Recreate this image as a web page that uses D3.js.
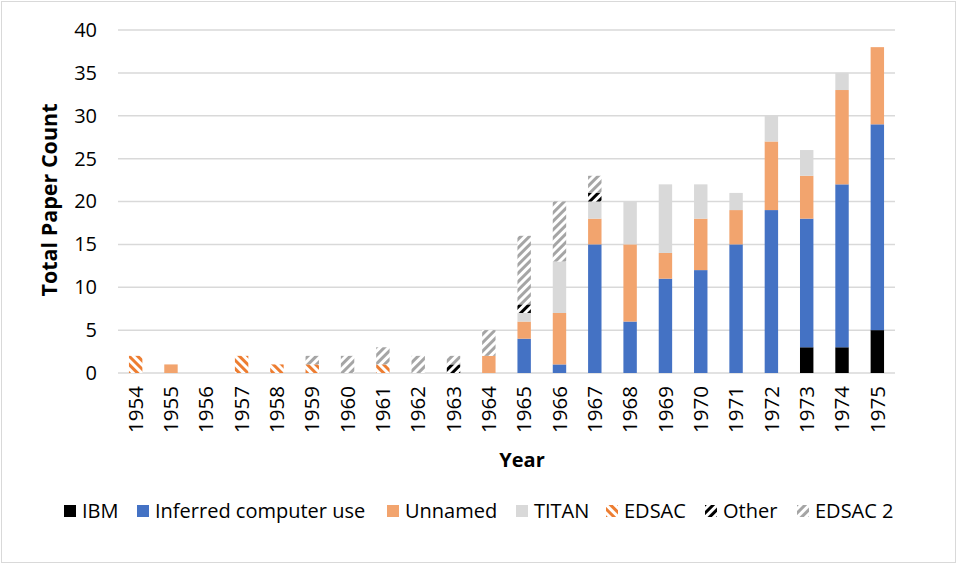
<!DOCTYPE html>
<html lang="en">
<head>
<meta charset="UTF-8">
<script src="https://d3js.org/d3.v7.min.js"></script>
<style>
    body { margin: 0; background: white; }
    svg text { font-family: "Open Sans", "Noto Sans", sans-serif; fill: #000; }
</style>
</head>
<body>
<svg id="chart" width="957" height="565"></svg>
<script>
    // data
    var years = ["1954","1955","1956","1957","1958","1959","1960","1961","1962","1963","1964",
                 "1965","1966","1967","1968","1969","1970","1971","1972","1973","1974","1975"];
    var ibm      = [0,0,0,0,0,0,0,0,0,0,0, 0,0,0,0,0,0,0,0,3,3,5];
    var inferred = [0,0,0,0,0,0,0,0,0,0,0, 4,1,15,6,11,12,15,19,15,19,24];
    var unnamed  = [0,1,0,0,0,0,0,0,0,0,2, 2,6,3,9,3,6,4,8,5,11,9];
    var titan    = [0,0,0,0,0,0,0,0,0,0,0, 1,6,2,5,8,4,2,3,3,2,0];
    var edsac    = [2,0,0,2,1,1,0,1,0,0,0, 0,0,0,0,0,0,0,0,0,0,0];
    var other    = [0,0,0,0,0,0,0,0,0,1,0, 1,0,1,0,0,0,0,0,0,0,0];
    var edsac2   = [0,0,0,0,0,1,2,2,2,1,3, 8,7,2,0,0,0,0,0,0,0,0];
    var yTicks = [0,5,10,15,20,25,30,35,40];

    var seriesNames = ["IBM","Inferred computer use","Unnamed","TITAN","EDSAC","Other","EDSAC 2"];
    var seriesData = [ibm, inferred, unnamed, titan, edsac, other, edsac2];
    var fills = ["#000000","#4472C4","#F2A46E","#D9D9D9","url(#pEdsac)","url(#pOther)","url(#pEdsac2)"];

    var svg = d3.select("#chart");

    // outer frame
    svg.append("rect").attr("x",1.5).attr("y",1.5).attr("width",954).attr("height",561)
        .attr("fill","white").attr("stroke","#d9d9d9");

    // stripe patterns
    var defs = svg.append("defs");
    function stripes(id, color, angle, w) {
        var p = defs.append("pattern").attr("id", id)
            .attr("patternUnits","userSpaceOnUse")
            .attr("width", 6).attr("height", 6)
            .attr("patternTransform","rotate(" + angle + ")");
        p.append("rect").attr("width",6).attr("height",6).attr("fill","white");
        p.append("rect").attr("width",w).attr("height",6).attr("fill",color);
    }
    stripes("pEdsac", "#ED7D31", -45, 3);
    stripes("pOther", "#000000", 45, 3);
    stripes("pEdsac2", "#A5A5A5", 45, 3);

    var plotL = 118, plotR = 895, plotT = 30, plotB = 373;
    var x = d3.scaleBand().domain(years).range([plotL, plotR]).paddingInner(0.62).paddingOuter(0.31);
    var y = d3.scaleLinear().domain([0, 40]).range([plotB, plotT]);

    // gridlines
    svg.append("g").selectAll("line").data(yTicks).enter().append("line")
        .attr("x1", plotL).attr("x2", plotR)
        .attr("y1", d => y(d)).attr("y2", d => y(d))
        .attr("stroke","#d9d9d9").attr("stroke-width",1.5);

    // stacked bars
    var rows = years.map(function(yr, i) {
        var r = {year: yr};
        seriesNames.forEach(function(s, j) { r[s] = seriesData[j][i]; });
        return r;
    });
    var stack = d3.stack().keys(seriesNames)(rows);
    svg.append("g").selectAll("g").data(stack).enter().append("g")
        .attr("fill", (d, i) => fills[i])
        .selectAll("rect").data(d => d).enter().append("rect")
        .attr("x", d => x(d.data.year))
        .attr("width", x.bandwidth())
        .attr("y", d => y(d[1]))
        .attr("height", d => y(d[0]) - y(d[1]));

    // y axis labels
    var yAxis = svg.append("g").attr("transform","translate(" + plotL + ",0)")
        .call(d3.axisLeft(y).tickValues(yTicks).tickSize(0).tickPadding(21));
    yAxis.select(".domain").remove();
    yAxis.selectAll("text").style("font-size","20px").style("font-family","Open Sans");

    // x axis labels (rotated)
    var xAxis = svg.append("g").attr("transform","translate(0," + plotB + ")")
        .call(d3.axisBottom(x).tickSize(0));
    xAxis.select(".domain").remove();
    xAxis.selectAll("text")
        .style("font-size","20.5px").style("font-family","Open Sans")
        .attr("text-anchor","end")
        .attr("transform","rotate(-90)")
        .attr("x", -13).attr("y", 0).attr("dy","0.35em");

    // axis titles
    svg.append("text").attr("x", 522).attr("y", 467).attr("text-anchor","middle")
        .style("font-size","20px").style("font-weight","bold").text("Year");
    svg.append("text").attr("transform","translate(57,200) rotate(-90)").attr("text-anchor","middle")
        .style("font-size","21.5px").style("font-weight","bold").text("Total Paper Count");

    // legend
    var legendX = [64, 137, 387, 516, 606, 705, 797];
    var lg = svg.append("g").selectAll("g").data(seriesNames).enter().append("g")
        .attr("transform", (d, i) => "translate(" + legendX[i] + ",511)");
    lg.append("rect").attr("x",0).attr("y",-6).attr("width",12).attr("height",12)
        .attr("fill", (d, i) => fills[i]);
    lg.append("text").attr("x",18).attr("y",0).attr("dy","0.36em")
        .style("font-size","20px").text(d => d);
</script>
</body>
</html>
